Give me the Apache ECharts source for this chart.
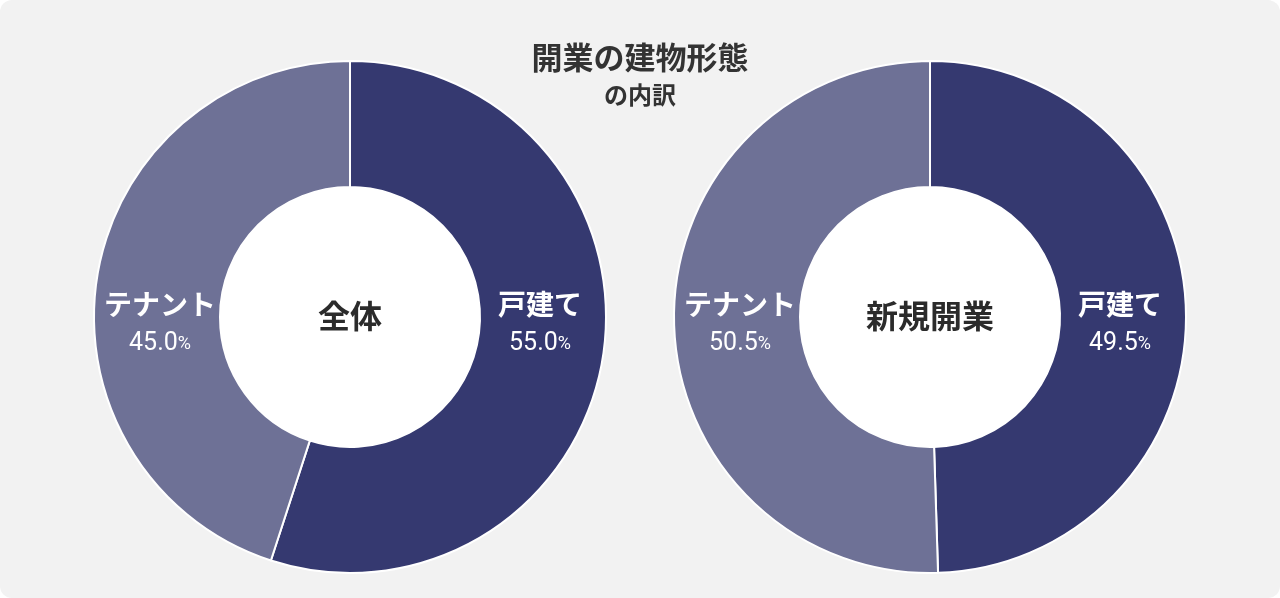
<!DOCTYPE html>
<html><head><meta charset="utf-8">
<script src="https://cdn.jsdelivr.net/npm/echarts@6/dist/echarts.min.js"></script>
<style>
html,body{margin:0;padding:0;background:#ffffff;}
#c{width:1280px;height:598px;background:#f2f2f2;border-radius:12px;}
</style></head><body>
<div id="c"></div>
<script>
const titleText = '開業の建物形態';
const subtitleText = 'の内訳';
const categories = ['戸建て', 'テナント'];
const groupNames = ['全体', '新規開業'];
const valuesAll = [55.0, 45.0];
const valuesNew = [49.5, 50.5];
const colors = ['#353970', '#6e7196'];

const chart = echarts.init(document.getElementById('c'));
const centers = [[350, 317], [930, 317]];
const jp = '"Noto Sans CJK JP", sans-serif';
const num = 'Roboto, "Noto Sans CJK JP", sans-serif';

function makeSeries(vals, idx) {
  const c = centers[idx];
  return {
    type: 'pie',
    center: c,
    radius: [130, 256],
    startAngle: 90,
    clockwise: true,
    silent: true,
    z: 2,
    itemStyle: { borderColor: '#ffffff', borderWidth: 2 },
    data: categories.map((n, i) => ({ name: n, value: vals[i], itemStyle: { color: colors[i] } })),
    label: {
      show: true,
      position: 'inside',
      formatter: p => '{n|' + p.name + '}\n{v|' + p.value.toFixed(1) + '}{p|%}',
      rich: {
        n: { fontFamily: jp, fontWeight: 'bold', fontSize: 28, color: '#ffffff', lineHeight: 40, align: 'center' },
        v: { fontFamily: num, fontSize: 25, color: '#ffffff', lineHeight: 40 },
        p: { fontFamily: num, fontSize: 18, color: '#ffffff', lineHeight: 40 }
      }
    },
    labelLine: { show: false },
    labelLayout: p => ({ x: c[0] + (p.dataIndex === 0 ? 190 : -190), y: c[1] + 7, align: 'center', verticalAlign: 'middle' })
  };
}

function holeSeries(idx) {
  return {
    type: 'pie',
    center: centers[idx],
    radius: [0, 130],
    silent: true,
    z: 1,
    label: { show: false },
    labelLine: { show: false },
    itemStyle: { color: '#ffffff' },
    data: [{ name: groupNames[idx], value: 1 }]
  };
}

chart.setOption({
  animation: false,
  title: [
    { text: titleText, left: 'center', top: 37, textStyle: { fontFamily: jp, fontWeight: 'bold', fontSize: 31, color: '#333333' } },
    { text: subtitleText, left: 'center', top: 78, textStyle: { fontFamily: jp, fontWeight: 'bold', fontSize: 24, color: '#333333' } }
  ],
  graphic: groupNames.map((g, i) => ({
    type: 'text', x: centers[i][0], y: centers[i][1] - 1, z: 10,
    style: { text: g, textAlign: 'center', textVerticalAlign: 'middle', fontFamily: jp, fontWeight: 'bold', fontSize: 32, fill: '#2b2b2b' }
  })),
  series: [holeSeries(0), holeSeries(1), makeSeries(valuesAll, 0), makeSeries(valuesNew, 1)]
});
</script>
</body></html>
